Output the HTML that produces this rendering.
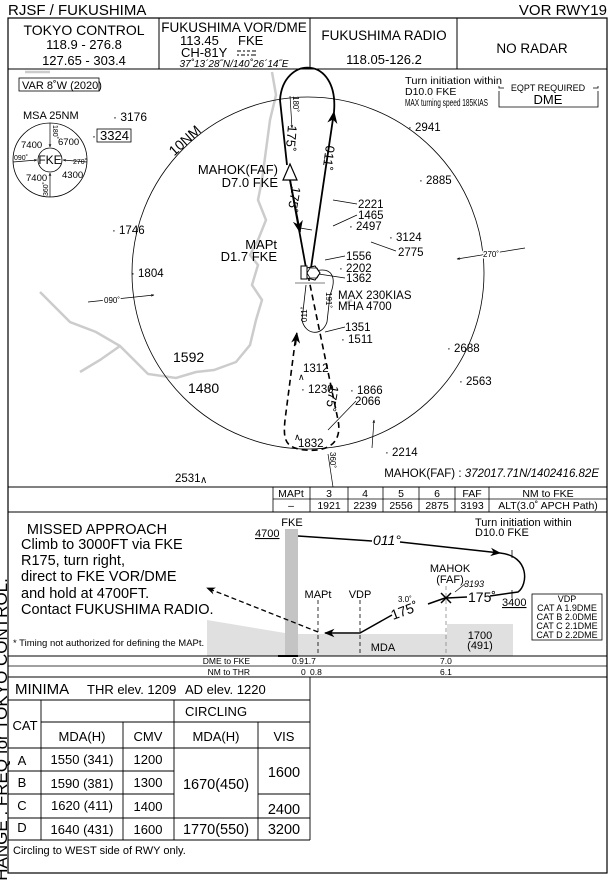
<!DOCTYPE html>
<html><head><meta charset="utf-8"><style>
html,body{margin:0;padding:0;background:#fff;}
svg{display:block;font-family:"Liberation Sans",Arial,sans-serif;}
</style></head><body>
<svg width="615" height="880" viewBox="0 0 615 880" xmlns="http://www.w3.org/2000/svg">
<defs>
<marker id="ah" viewBox="0 0 10 10" refX="9" refY="5" markerWidth="7" markerHeight="7" orient="auto-start-reverse"><path d="M0,1 L10,5 L0,9 L3,5 z" fill="#000"/></marker>
<marker id="as" viewBox="0 0 10 10" refX="9" refY="5" markerWidth="5" markerHeight="5" orient="auto-start-reverse"><path d="M0,1 L10,5 L0,9 L3,5 z" fill="#000"/></marker>
</defs>
<g font-size="13" fill="#000">
<text x="8" y="15" font-size="15">RJSF / FUKUSHIMA</text>
<text x="607" y="15" font-size="15" text-anchor="end">VOR  RWY19</text>
<rect x="8" y="18" width="599" height="855" fill="none" stroke="#000" stroke-width="1.2"/>
<line x1="8" y1="69" x2="607" y2="69" stroke="#000"/>
<line x1="159" y1="18" x2="159" y2="69" stroke="#000"/>
<line x1="310" y1="18" x2="310" y2="69" stroke="#000"/>
<line x1="457" y1="18" x2="457" y2="69" stroke="#000"/>
<g text-anchor="middle">
<text x="84" y="35" font-size="14">TOKYO  CONTROL</text>
<text x="84" y="49">118.9 - 276.8</text>
<text x="84" y="65">127.65 - 303.4</text>
<text x="234" y="32" font-size="13.5">FUKUSHIMA  VOR/DME</text>
<text x="384" y="40" font-size="13.5">FUKUSHIMA  RADIO</text>
<text x="384" y="64">118.05-126.2</text>
<text x="532" y="53" font-size="13.5">NO  RADAR</text>
<text x="234" y="67" font-size="10" font-style="italic">37˚13´28˝N/140˚26´14˝E</text>
</g>
<text x="180" y="45">113.45</text><text x="238" y="45">FKE</text>
<text x="181" y="57">CH-81Y</text>
<g stroke="#000" stroke-width="1"><line x1="237" y1="51" x2="241" y2="51"/><line x1="243" y1="51" x2="245" y2="51"/><line x1="247" y1="51" x2="250" y2="51"/><line x1="252" y1="51" x2="256" y2="51"/><line x1="237" y1="55" x2="239" y2="55"/><line x1="241" y1="55" x2="245" y2="55"/><line x1="247" y1="55" x2="249" y2="55"/><line x1="251" y1="55" x2="256" y2="55"/></g>

<g fill="none" stroke="#ccc" stroke-width="2.5">
<path d="M272 72 L276 95 L270 120 L266 150 L262 180 L258 200 L266 220 L258 240 L250 255 L258 265 L252 285 L262 300 L256 320 L250 345 L236 362 L214 370 L196 372 L176 378 L148 374 L120 346 L96 332 L70 322 L40 292"/>
<path d="M120 346 L100 360 L80 372"/>
<path d="M25 72 L50 72"/>
<path d="M345 304 L352 300"/>
</g>
<circle cx="308" cy="273" r="176" fill="none" stroke="#000" stroke-width="0.8"/>
<text x="188" y="144" font-size="14" transform="rotate(-42 188 144)" text-anchor="middle">10NM</text>

<rect x="19" y="78" width="80" height="13" fill="none" stroke="#000" stroke-width="0.8"/>
<text x="22" y="89" font-size="11">VAR 8˚W (2020)</text>
<text x="23" y="119" font-size="11">MSA 25NM</text>
<circle cx="50" cy="160" r="37" fill="none" stroke="#000" stroke-width="0.8"/>
<circle cx="50" cy="160" r="12" fill="none" stroke="#000" stroke-width="0.8"/>
<text x="50" y="164" font-size="12" text-anchor="middle">FKE</text>
<g stroke="#000" stroke-width="0.7" fill="none">
<line x1="50" y1="123" x2="50" y2="147" marker-end="url(#as)"/>
<line x1="50" y1="197" x2="50" y2="173" marker-end="url(#as)"/>
<line x1="13" y1="162" x2="37" y2="160" marker-end="url(#as)"/>
<line x1="87" y1="162" x2="63" y2="160" marker-end="url(#as)"/>
</g>
<g font-size="9.5">
<text x="21" y="148">7400</text><text x="58" y="145">6700</text>
<text x="26" y="181">7400</text><text x="62" y="178">4300</text>
</g>
<g font-size="7">
<text x="14" y="160">090˚</text><text x="73" y="164">270˚</text>
<text x="0" y="0" transform="translate(53,125) rotate(90)">180˚</text>
<text x="0" y="0" transform="translate(48,196) rotate(-90)">360˚</text>
</g>
<text x="113" y="121" font-size="12">· 3176</text>
<text x="92" y="140" font-size="12">·</text>
<rect x="97" y="129" width="34" height="13" fill="none" stroke="#000" stroke-width="0.8"/>
<text x="100" y="140" font-size="13">3324</text>

<text x="405" y="84" font-size="10.5" textLength="97" lengthAdjust="spacingAndGlyphs">Turn initiation within</text>
<text x="405" y="95" font-size="10.5">D10.0 FKE</text>
<text x="405" y="106" font-size="10.5" textLength="83" lengthAdjust="spacingAndGlyphs">MAX turning speed 185KIAS</text>
<path d="M499 91 L499 107 L598 107 L598 91 M499 86 L499 88 L504 88 M593 88 L598 88 L598 86" fill="none" stroke="#000" stroke-width="0.8"/>
<text x="548" y="91" font-size="9" text-anchor="middle">EQPT REQUIRED</text>
<text x="548" y="104" font-size="13" text-anchor="middle">DME</text>

<g font-size="11.5">
<text x="408" y="131">· 2941</text>
<text x="419" y="184">· 2885</text>
<text x="358" y="208">2221</text>
<text x="358" y="219">1465</text>
<text x="349" y="230">·  2497</text>
<text x="389" y="241">· 3124</text>
<text x="398" y="256">2775</text>
<text x="346" y="260">1556</text>
<text x="339" y="272">·  2202</text>
<text x="346" y="282">1362</text>
<text x="338" y="299">MAX 230KIAS</text>
<text x="338" y="310">MHA 4700</text>
<text x="345" y="331">1351</text>
<text x="341" y="343">· 1511</text>
<text x="447" y="352">·  2688</text>
<text x="459" y="385">· 2563</text>
<text x="303" y="372">1312</text>
<text x="301" y="393">· 1230</text>
<text x="350" y="394">· 1866</text>
<text x="355" y="405">2066</text>
<text x="298" y="447">1832</text>
<text x="385" y="456">· 2214</text>
<text x="112" y="234">· 1746</text>
<text x="131" y="277">· 1804</text>
<text x="173" y="362" font-size="14">1592</text>
<text x="188" y="393" font-size="14">1480</text>
<text x="175" y="482">2531</text>
</g>
<text x="200" y="483" font-size="10">∧</text>
<text x="298" y="380" font-size="9">∧</text>
<text x="294" y="440" font-size="9">∧</text>
<g stroke="#000" stroke-width="0.7">
<line x1="333" y1="200" x2="357" y2="204"/>
<line x1="333" y1="226" x2="357" y2="215"/>
<line x1="371" y1="242" x2="396" y2="251"/>
<line x1="325" y1="260" x2="345" y2="256"/>
<line x1="312" y1="273" x2="345" y2="278"/>
<line x1="325" y1="332" x2="345" y2="327"/>
<line x1="328" y1="430" x2="356" y2="401"/>
<line x1="328" y1="454" x2="333" y2="487"/>
<line x1="525" y1="248" x2="457" y2="259" marker-end="url(#as)"/>
<line x1="88" y1="302" x2="154" y2="295" marker-end="url(#as)"/>
</g>
<text x="483" y="257" font-size="8" fill="#000" stroke="#fff" stroke-width="3" paint-order="stroke">270˚</text>
<text x="104" y="303" font-size="8" stroke="#fff" stroke-width="3" paint-order="stroke">090˚</text>

<g fill="none" stroke="#000">
<path d="M311 268 L334 112" stroke-width="1.8" marker-end="url(#ah)"/>
<path d="M334 112 C339 55, 283 55, 280 100 L283 128" stroke-width="1.8"/>
<line x1="290" y1="96" x2="292" y2="128" stroke-width="0.7" marker-end="url(#as)"/>
<path d="M283 128 L287 165" stroke-width="1.8"/>
<path d="M290 180 L306 268" stroke-width="1.8"/>
<line x1="290" y1="180" x2="300" y2="232" stroke-width="1.8" marker-end="url(#ah)"/>
<path d="M308 275 L338 420 C343 445, 325 452, 305 450 C285 448, 283 440, 285 420 L296 335" stroke-width="1.6" stroke-dasharray="6,4"/>
<line x1="296" y1="345" x2="296" y2="333" stroke-width="1.6" marker-end="url(#ah)" transform="rotate(7 296 340)"/>
<line x1="372" y1="448" x2="374" y2="420" stroke-width="0.7" marker-end="url(#as)"/>
<path d="M312 272 C333 265, 337 278, 330 295 L327 322 C322 337, 305 335, 302 320 L306 285" stroke-width="0.8"/>
<line x1="300" y1="228" x2="312" y2="230" stroke-width="0.8"/>
<line x1="295" y1="283" x2="325" y2="283" stroke-width="0.6"/>
</g>
<path d="M290 164 L283 180 L297 180 z" fill="#fff" stroke="#000" stroke-width="1.2"/>
<rect x="301" y="266" width="6" height="13" fill="#fff" stroke="#000"/>
<path d="M307 268 L315 266 L320 273 L315 280 L307 278 z" fill="#fff" stroke="#000"/>
<path d="M310 268 L317 268 L320 273 L317 278 L310 278 L307 273 z" fill="none" stroke="#000" stroke-width="0.8"/>
<g font-size="13">
<text x="278" y="174" text-anchor="end">MAHOK(FAF)</text>
<text x="278" y="187" text-anchor="end">D7.0 FKE</text>
<text x="277" y="249" text-anchor="end">MAPt</text>
<text x="277" y="261" text-anchor="end">D1.7 FKE</text>
</g>
<text x="0" y="0" font-size="13" transform="translate(288,125) rotate(95)">175˚</text>
<text x="0" y="0" font-size="13" transform="translate(292,186) rotate(100)">175˚</text>
<text x="0" y="0" font-size="13" transform="translate(326,145) rotate(98)">011˚</text>
<text x="0" y="0" font-size="13" transform="translate(330,385) rotate(100)">175˚</text>
<text x="0" y="0" font-size="8" transform="translate(293,96) rotate(90)">180˚</text>
<text x="0" y="0" font-size="8" transform="translate(326,292) rotate(90)">191˚</text>
<text x="0" y="0" font-size="8" transform="translate(307,322) rotate(-90)">011˚</text>
<text x="0" y="0" font-size="8" transform="translate(330,452) rotate(90)">360˚</text>
<text x="599" y="477" font-size="11.5" text-anchor="end">MAHOK(FAF) : <tspan font-style="italic">372017.71N/1402416.82E</tspan></text>

<line x1="8" y1="487" x2="607" y2="487" stroke="#000"/>
<line x1="8" y1="512" x2="607" y2="512" stroke="#000"/>
<line x1="273" y1="499" x2="607" y2="499" stroke="#000" stroke-width="0.8"/>
<g stroke="#000" stroke-width="0.8">
<line x1="273" y1="487" x2="273" y2="512"/><line x1="310" y1="487" x2="310" y2="512"/>
<line x1="348" y1="487" x2="348" y2="512"/><line x1="383" y1="487" x2="383" y2="512"/>
<line x1="419" y1="487" x2="419" y2="512"/><line x1="455" y1="487" x2="455" y2="512"/>
<line x1="489" y1="487" x2="489" y2="512"/>
</g>
<g font-size="10.5" text-anchor="middle">
<text x="291" y="497">MAPt</text><text x="329" y="497">3</text><text x="365" y="497">4</text><text x="401" y="497">5</text><text x="437" y="497">6</text><text x="472" y="497">FAF</text><text x="548" y="497">NM to FKE</text>
<text x="291" y="509">–</text><text x="329" y="509">1921</text><text x="365" y="509">2239</text><text x="401" y="509">2556</text><text x="437" y="509">2875</text><text x="472" y="509">3193</text><text x="548" y="509">ALT(3.0˚ APCH Path)</text>
</g>

<polygon points="207,620 285,633 285,656 207,656" fill="#e0e0e0"/>
<polygon points="298,634 447,634 447,624 513,624 513,656 298,656" fill="#e0e0e0"/>
<rect x="285" y="529" width="13" height="127" fill="#c4c4c4"/>
<line x1="278" y1="656" x2="298" y2="656" stroke="#000" stroke-width="2"/>
<g font-size="14.5">
<text x="97" y="534" text-anchor="middle">MISSED APPROACH</text>
<text x="21" y="549">Climb to 3000FT via FKE</text>
<text x="21" y="565">R175, turn right,</text>
<text x="21" y="581">direct to FKE VOR/DME</text>
<text x="21" y="598">and hold at 4700FT.</text>
<text x="21" y="614">Contact FUKUSHIMA RADIO.</text>
</g>
<text x="13" y="646" font-size="9.5">* Timing not authorized for defining the MAPt.</text>
<text x="292" y="526" font-size="11" text-anchor="middle">FKE</text>
<text x="255" y="537" font-size="11" text-decoration="underline">4700</text>
<g fill="none" stroke="#000">
<path d="M298 536 L372 541" stroke-width="1.5"/>
<path d="M400 542 L500 553" stroke-width="1.5" marker-end="url(#ah)"/>
<path d="M500 553 C530 556, 528 585, 518 592 L490 596" stroke-width="1.5"/>
<path d="M467 597 L447 598" stroke-width="1.5"/>
<path d="M445 598 L428 604" stroke-width="1.5"/>
<path d="M392 615 L360 633 L325 633" stroke-width="1.5" marker-end="url(#ah)"/>
<path d="M318 632 L207 588" stroke-width="1.3" stroke-dasharray="5,3" marker-end="url(#ah)"/>
<g stroke-width="0.8" stroke-dasharray="4,3">
<line x1="318" y1="600" x2="318" y2="656"/>
<line x1="360" y1="600" x2="360" y2="656"/>
<line x1="446" y1="586" x2="446" y2="656" stroke="#888"/>
</g>
<line x1="512" y1="550" x2="512" y2="558" stroke-width="0.8"/>
<line x1="512" y1="590" x2="512" y2="598" stroke-width="0.8"/>
<line x1="441" y1="593" x2="451" y2="603" stroke-width="1.5"/>
<line x1="451" y1="593" x2="441" y2="603" stroke-width="1.5"/>
<line x1="455" y1="592" x2="466" y2="583" stroke-width="0.6"/>
</g>
<text x="373" y="545" font-size="14" font-style="italic">011°</text>
<text x="468" y="602" font-size="14">175˚</text>
<text x="0" y="0" font-size="14" transform="translate(393,620) rotate(-20)">175˚</text>
<text x="398" y="602" font-size="8">3.0˚</text>
<text x="475" y="526" font-size="11">Turn initiation within</text>
<text x="475" y="536" font-size="11">D10.0 FKE</text>
<text x="450" y="572" font-size="11" text-anchor="middle">MAHOK</text>
<text x="450" y="583" font-size="11" text-anchor="middle">(FAF)</text>
<text x="464" y="587" font-size="9" font-style="italic">3193</text>
<text x="318" y="598" font-size="11" text-anchor="middle">MAPt</text>
<text x="360" y="598" font-size="11" text-anchor="middle">VDP</text>
<text x="502" y="606" font-size="11" text-decoration="underline">3400</text>
<text x="480" y="639" font-size="11" text-anchor="middle">1700</text>
<text x="480" y="649" font-size="11" text-anchor="middle">(491)</text>
<text x="383" y="651" font-size="11" text-anchor="middle">MDA</text>
<rect x="532" y="594" width="70" height="46" fill="none" stroke="#000" stroke-width="0.8"/>
<g font-size="9" text-anchor="middle">
<text x="567" y="602">VDP</text><text x="567" y="611">CAT A 1.9DME</text><text x="567" y="620">CAT B 2.0DME</text><text x="567" y="629">CAT C 2.1DME</text><text x="567" y="638">CAT D 2.2DME</text>
</g>
<line x1="8" y1="656" x2="607" y2="656" stroke="#000"/>
<line x1="8" y1="666" x2="607" y2="666" stroke="#000" stroke-width="0.8"/>
<line x1="8" y1="677" x2="607" y2="677" stroke="#000"/>
<g font-size="8.5">
<text x="250" y="664" text-anchor="end">DME to FKE</text>
<text x="250" y="675" text-anchor="end">NM to THR</text>
<text x="292" y="664">0.9</text><text x="304" y="664">1.7</text><text x="440" y="664">7.0</text>
<text x="301" y="675">0</text><text x="310" y="675">0.8</text><text x="440" y="675">6.1</text>
</g>

<text x="15" y="694" font-size="15">MINIMA</text>
<text x="87" y="694" font-size="13">THR elev. 1209</text>
<text x="185" y="694" font-size="13">AD elev. 1220</text>
<g stroke="#000" stroke-width="0.9">
<line x1="310" y1="677" x2="310" y2="840"/>
<line x1="8" y1="700" x2="310" y2="700"/>
<line x1="41" y1="722" x2="310" y2="722"/>
<line x1="8" y1="748" x2="310" y2="748"/>
<line x1="8" y1="771" x2="174" y2="771"/>
<line x1="8" y1="794" x2="174" y2="794"/>
<line x1="258" y1="794" x2="310" y2="794"/>
<line x1="8" y1="818" x2="310" y2="818"/>
<line x1="8" y1="840" x2="310" y2="840"/>
<line x1="41" y1="700" x2="41" y2="840"/>
<line x1="123" y1="722" x2="123" y2="840"/>
<line x1="174" y1="700" x2="174" y2="840"/>
<line x1="258" y1="722" x2="258" y2="840"/>
</g>
<g font-size="13" text-anchor="middle">
<text x="25" y="730">CAT</text>
<text x="216" y="716">CIRCLING</text>
<text x="82" y="741">MDA(H)</text><text x="148" y="741">CMV</text><text x="216" y="741">MDA(H)</text><text x="284" y="741">VIS</text>
<text x="22" y="765">A</text><text x="82" y="764">1550 (341)</text><text x="148" y="764">1200</text>
<text x="22" y="787">B</text><text x="82" y="788">1590 (381)</text><text x="148" y="787">1300</text>
<text x="22" y="810">C</text><text x="82" y="810">1620 (411)</text><text x="148" y="811">1400</text>
<text x="22" y="832">D</text><text x="82" y="834">1640 (431)</text><text x="148" y="834">1600</text>
<text x="216" y="789" font-size="14.5">1670(450)</text>
<text x="284" y="777" font-size="14.5">1600</text>
<text x="284" y="814" font-size="14.5">2400</text>
<text x="216" y="834" font-size="14.5">1770(550)</text>
<text x="284" y="834" font-size="14.5">3200</text>
</g>
<text x="13" y="854" font-size="11">Circling to WEST side of RWY only.</text>
<text x="0" y="0" font-size="17" transform="translate(7,893) rotate(-90)">CHANGE : FREQ for TOKYO CONTROL.</text>
</g>
</svg>
</body></html>
